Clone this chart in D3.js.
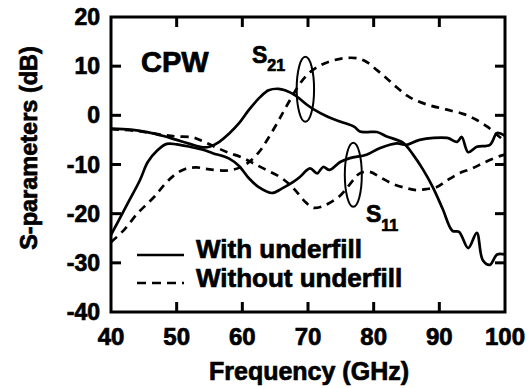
<!DOCTYPE html>
<html>
<head>
<meta charset="utf-8">
<script src="https://d3js.org/d3.v7.min.js"></script>
<style>
  body { margin: 0; background: #fff; }
  text { font-family: "Liberation Sans", Arial, sans-serif; font-weight: bold; fill: #000; stroke: #000; stroke-width: 0.7px; }
</style>
</head>
<body>
<div id="chart"></div>
<script>
// S21 with underfill (solid)
const s21WithF  = [40,43,45.5,48,50,52,54,55,56.5,58,59.5,61,62.7,64,65.5,66.5,68,70,71,73,75,77,77.9,79,80.5,82,84.5,86,87.5,89,90.5,92,93,94.4,95.7,96.6,97.7,98.8,100];
const s21WithDb = [-2.7,-2.9,-3.4,-4.2,-5,-5.8,-6.5,-6.4,-5.4,-3.7,-1.6,1.1,3.7,5.1,5.4,5.1,4.1,2.0,1.1,-0.3,-1.3,-2.3,-3.3,-3.4,-3.4,-4.3,-5.6,-8,-11,-14.6,-19,-23.5,-23.7,-27,-23.9,-29.4,-30.4,-28.3,-28.3];

// S11 with underfill (solid)
const s11WithF  = [40,41,42.5,44.4,45.6,47,48.5,50,52,54,55.5,58,59.5,61,62.5,64.5,66,67.7,68.8,70.3,71.4,72.3,73.3,74.9,76.4,78.9,80.9,83.5,85,87,91.2,92.7,93.4,94.4,95.7,97.7,98.8,100];
const s11WithDb = [-24.3,-21.8,-18,-13.2,-9.5,-7.2,-5.8,-5.9,-6.4,-7,-7.7,-8.8,-10.3,-12.8,-14.6,-15.8,-14.9,-13.6,-12.5,-10.8,-11.8,-10.5,-11.1,-9.5,-8.7,-8,-6.7,-5.7,-6,-5,-4.6,-5.4,-4.4,-7.5,-6.4,-6,-3.6,-4.2];

// S21 without underfill (dashed)
const s21WithoutF  = [40,42,44,45.5,46.7,48.2,49.7,51.3,53,55,58,60,61.3,62.7,63.5,65.3,66.2,67,68.8,70,71.4,73,75.3,77.5,79,80.5,82,83.5,85.1,86.5,88.6,91,93.6,95.5,97.3,99,100];
const s21WithoutDb = [-25.8,-23.3,-20,-18,-16.4,-14,-12.1,-10.9,-10.6,-11,-11.2,-10.4,-9.2,-7.2,-5.6,-1.6,0.6,2.5,6.5,8.4,9.8,10.8,11.6,11.6,10.8,9.2,7.5,5.7,4,3,2,1.2,0.3,-0.8,-2.3,-4.2,-5.2];

// S11 without underfill (dashed)
const s11WithoutF  = [40,44,48,50,52.5,54,56,57.7,60,61.6,63.5,65.7,67.3,68.3,69.5,70.8,72,73.3,75,77,77.9,79.4,81,83,85,86.5,88,89.6,91,93,95,97,99.2,100];
const s11WithoutDb = [-2.8,-3.2,-4,-4.3,-4.5,-5.3,-6.5,-7.5,-8.6,-9.7,-11,-12.5,-14.2,-15.6,-17.5,-18.8,-18.6,-17.8,-16.2,-13,-11.8,-11.5,-12.6,-14,-14.8,-15.2,-15,-14.6,-13.4,-11.8,-10.8,-9.5,-8.3,-8];

const xTicks = [40,50,60,70,80,90,100];
const yTicks = [20,10,0,-10,-20,-30,-40];

const legendLabels = ["With underfill", "Without underfill"];

const width = 531, height = 388;
const margin = {top: 17, right: 26, bottom: 76, left: 111};

const svg = d3.select("#chart").append("svg")
    .attr("width", width)
    .attr("height", height);

const x = d3.scaleLinear().domain([40, 100]).range([margin.left, width - margin.right]);
const y = d3.scaleLinear().domain([-40, 20]).range([height - margin.bottom, margin.top]);

svg.append("clipPath").attr("id", "clip")
  .append("rect")
    .attr("x", x(40)).attr("y", y(20))
    .attr("width", x(100) - x(40)).attr("height", y(-40) - y(20));

const line = d3.line()
    .x(d => x(d[0]))
    .y(d => y(d[1]))
    .curve(d3.curveCatmullRom.alpha(0.5));

const series = [
  {f: s21WithF, v: s21WithDb, dash: null},
  {f: s11WithF, v: s11WithDb, dash: null},
  {f: s21WithoutF, v: s21WithoutDb, dash: "8,6"},
  {f: s11WithoutF, v: s11WithoutDb, dash: "8,6"}
];

const plot = svg.append("g").attr("clip-path", "url(#clip)");
series.forEach(s => {
  plot.append("path")
      .datum(s.f.map((f, i) => [f, s.v[i]]))
      .attr("fill", "none")
      .attr("stroke", "#000")
      .attr("stroke-width", 2.7)
      .attr("stroke-linejoin", "round")
      .attr("stroke-dasharray", s.dash)
      .attr("d", line);
});

// ticks inward on all sides
const inner = xTicks.slice(1, -1);
const innerY = yTicks.slice(1, -1);
const tickLen = 10;
const axes = svg.append("g").attr("stroke", "#000").attr("stroke-width", 3);
inner.forEach(t => {
  axes.append("line").attr("x1", x(t)).attr("x2", x(t)).attr("y1", y(-40)).attr("y2", y(-40) - tickLen);
  axes.append("line").attr("x1", x(t)).attr("x2", x(t)).attr("y1", y(20)).attr("y2", y(20) + tickLen);
});
innerY.forEach(t => {
  axes.append("line").attr("y1", y(t)).attr("y2", y(t)).attr("x1", x(40)).attr("x2", x(40) + tickLen);
  axes.append("line").attr("y1", y(t)).attr("y2", y(t)).attr("x1", x(100)).attr("x2", x(100) - tickLen);
});
svg.append("rect")
    .attr("x", x(40)).attr("y", y(20))
    .attr("width", x(100) - x(40)).attr("height", y(-40) - y(20))
    .attr("fill", "none").attr("stroke", "#000").attr("stroke-width", 3);

// tick labels
svg.append("g").selectAll("text").data(xTicks).join("text")
    .attr("x", d => x(d)).attr("y", y(-40) + 33)
    .attr("text-anchor", "middle")
    .style("font-size", "24px")
    .text(d => d);
svg.append("g").selectAll("text").data(yTicks).join("text")
    .attr("x", x(40) - 11).attr("y", d => y(d) + 8)
    .attr("text-anchor", "end")
    .style("font-size", "23px")
    .text(d => d);

// axis titles
svg.append("text")
    .attr("x", (x(40) + x(100)) / 2 + 1).attr("y", 380)
    .attr("text-anchor", "middle")
    .style("font-size", "25px")
    .text("Frequency (GHz)");
svg.append("text")
    .attr("transform", "translate(37," + 148 + ") rotate(-90)")
    .attr("text-anchor", "middle")
    .style("font-size", "23.5px")
    .text("S-parameters (dB)");

// annotations
svg.append("text").attr("x", 141).attr("y", 72).style("font-size", "29px").text("CPW");

const s21Label = svg.append("text").attr("x", 252).attr("y", 63).style("font-size", "23px");
s21Label.append("tspan").text("S");
s21Label.append("tspan").attr("dy", 8).style("font-size", "16px").text("21");

const s11Label = svg.append("text").attr("x", 366).attr("y", 222).style("font-size", "23px");
s11Label.append("tspan").text("S");
s11Label.append("tspan").attr("dy", 9).style("font-size", "16px").text("11");

const ellipses = [
  {cx: 69.6, cy: 5.3, rx: 8.7, ry: 32.5},
  {cx: 76.9, cy: -12.1, rx: 8.5, ry: 32}
];
svg.append("g").selectAll("ellipse").data(ellipses).join("ellipse")
    .attr("cx", d => x(d.cx)).attr("cy", d => y(d.cy))
    .attr("rx", d => d.rx).attr("ry", d => d.ry)
    .attr("fill", "none").attr("stroke", "#000").attr("stroke-width", 2);

// legend
const legend = svg.append("g");
legendLabels.forEach((lab, i) => {
  const ly = 255 + i * 28;
  legend.append("line")
      .attr("x1", 137).attr("x2", 184).attr("y1", ly).attr("y2", ly)
      .attr("stroke", "#000").attr("stroke-width", 2.7)
      .attr("stroke-dasharray", i === 1 ? "9,6" : null);
  legend.append("text")
      .attr("x", 196).attr("y", ly + 3 + i * 1)
      .style("font-size", "26px")
      .text(lab);
});
</script>
</body>
</html>
